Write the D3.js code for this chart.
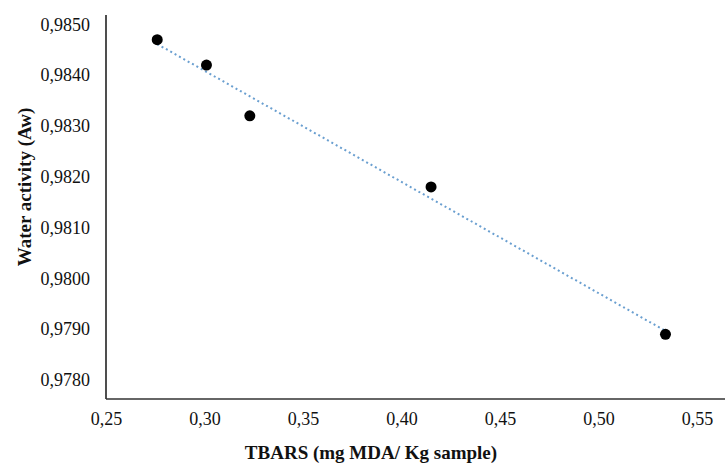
<!DOCTYPE html>
<html>
<head>
<meta charset="utf-8">
<script src="https://cdn.jsdelivr.net/npm/d3@7"></script>
<style>
  html, body { margin: 0; padding: 0; background: #fff; }
  svg { display: block; font-family: "Liberation Serif", "DejaVu Serif", serif; }
</style>
</head>
<body>
<div id="chart"></div>
<script>
// TBARS vs water activity
const tbars = [0.276, 0.301, 0.323, 0.415, 0.534];
const aw = [0.9847, 0.9842, 0.9832, 0.9818, 0.9789];

const xTicks = [0.25, 0.30, 0.35, 0.40, 0.45, 0.50, 0.55];
const yTicks = [0.9780, 0.9790, 0.9800, 0.9810, 0.9820, 0.9830, 0.9840, 0.9850];

const xTitle = 'TBARS (mg MDA/ Kg sample)';
const yTitle = 'Water activity (Aw)';

const width = 725, height = 465;
const plot = { left: 106, right: 725, top: 15, bottom: 399 };

const fmt = d3.format('.2f');
const fmtY = d3.format('.4f');
const comma = s => s.replace('.', ',');

const svg = d3.select('#chart').append('svg')
    .attr('width', width)
    .attr('height', height);

// scales: 0.25 sits on the axis, 0.55 short of the right edge
const x = d3.scaleLinear().domain([0.25, 0.55]).range([plot.left, 697]);
const y = d3.scaleLinear().domain([0.9780, 0.9850]).range([380, 24.4]);

// axes (no tick marks, just the lines and labels)
const xAxis = d3.axisBottom(x)
    .tickValues(xTicks)
    .tickSize(0)
    .tickPadding(13)
    .tickFormat(d => comma(fmt(d)));

const gx = svg.append('g')
    .attr('transform', `translate(0,${plot.bottom})`)
    .call(xAxis);
gx.select('.domain').remove();
gx.selectAll('text')
    .attr('font-size', 18)
    .attr('font-family', '"Liberation Serif", serif')
    .attr('fill', '#111');

const yAxis = d3.axisLeft(y)
    .tickValues(yTicks)
    .tickSize(0)
    .tickPadding(16)
    .tickFormat(d => comma(fmtY(d)));

const gy = svg.append('g')
    .attr('transform', `translate(${plot.left},0)`)
    .call(yAxis);
gy.select('.domain').remove();
gy.selectAll('text')
    .attr('font-size', 18)
    .attr('font-family', '"Liberation Serif", serif')
    .attr('fill', '#111');

// axis lines
svg.append('line')
    .attr('x1', plot.left).attr('x2', plot.left)
    .attr('y1', plot.top).attr('y2', plot.bottom)
    .attr('stroke', '#222').attr('stroke-width', 1.6);
svg.append('line')
    .attr('x1', plot.left).attr('x2', plot.right)
    .attr('y1', plot.bottom).attr('y2', plot.bottom)
    .attr('stroke', '#333').attr('stroke-width', 1.6);

// linear trendline (least squares over the points)
const mx = d3.mean(tbars), my = d3.mean(aw);
const slope = d3.sum(tbars, (v, i) => (v - mx) * (aw[i] - my)) /
    d3.sum(tbars, v => (v - mx) * (v - mx));
const fit = v => my + slope * (v - mx);
const [x0, x1] = d3.extent(tbars);

svg.append('line')
    .attr('x1', x(x0)).attr('y1', y(fit(x0)))
    .attr('x2', x(x1)).attr('y2', y(fit(x1)))
    .attr('stroke', '#6a9fd0')
    .attr('stroke-width', 2)
    .attr('stroke-dasharray', '2,3');

// points
svg.append('g')
    .selectAll('circle')
    .data(tbars.map((v, i) => [v, aw[i]]))
    .join('circle')
    .attr('cx', d => x(d[0]))
    .attr('cy', d => y(d[1]))
    .attr('r', 5.5)
    .attr('fill', '#000');

// titles
svg.append('text')
    .attr('x', 371)
    .attr('y', 459)
    .attr('text-anchor', 'middle')
    .attr('font-size', 19)
    .attr('font-weight', 'bold')
    .attr('fill', '#111')
    .text(xTitle);

svg.append('text')
    .attr('transform', 'translate(31,187) rotate(-90)')
    .attr('text-anchor', 'middle')
    .attr('font-size', 19)
    .attr('font-weight', 'bold')
    .attr('fill', '#111')
    .text(yTitle);
</script>
</body>
</html>
